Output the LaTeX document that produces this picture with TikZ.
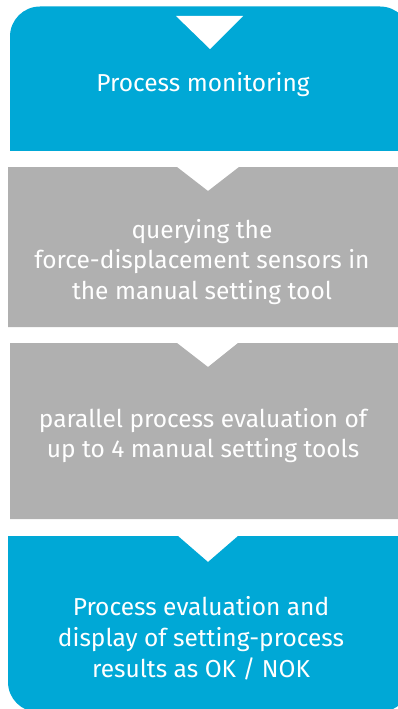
\documentclass[tikz,border=0pt]{standalone}
\usepackage{fontspec}
\setmainfont{Fira Sans}[Ligatures=CommonOff]
\definecolor{flowblue}{RGB}{0,168,214}
\definecolor{flowgray}{RGB}{176,176,176}
\begin{document}
\begin{tikzpicture}[x=1pt,y=-1pt,
  steptext/.style={text=white, align=center, inner sep=0pt,
    font=\fontsize{24.5}{30.8}\selectfont}]
\useasboundingbox (0,0) rectangle (398,709);
\clip (0,0) rectangle (398,709);

% first step: rounded top corners, square bottom
\begin{scope}
  \clip (0,0) rectangle (398,150);
  \fill[flowblue, rounded corners=30] (10,6.5) rectangle (410,220);
\end{scope}
\fill[white] (176,16) -- (243,16) -- (210,49) -- cycle;
\node[steptext, anchor=base] (monitor) at (203,92) {Process monitoring};

% second step
\fill[flowgray] (8,167) -- (177,167) -- (208,191) -- (239,167) -- (410,167)
  -- (410,327) -- (8,327) -- cycle;
\node[steptext] (query) at (202,262)
  {querying the\\force-displacement sensors in\\the manual setting tool};

% third step
\fill[flowgray] (10,343) -- (177,343) -- (208,367) -- (238,343) -- (410,343)
  -- (410,519) -- (10,519) -- cycle;
\node[steptext] (parallel) at (203,435.5)
  {parallel process evaluation of\\up to 4 manual setting tools};

% last step: rounded bottom corners
\begin{scope}
  \clip[rounded corners=30] (8,480) rectangle (410,712);
  \fill[flowblue] (8,536) -- (178,536) -- (208,562) -- (238,536) -- (410,536)
    -- (410,712) -- (8,712) -- cycle;
\end{scope}
\node[steptext] (result) at (201,638)
  {Process evaluation and\\display of setting-process\\results as OK / NOK};
\end{tikzpicture}
\end{document}
